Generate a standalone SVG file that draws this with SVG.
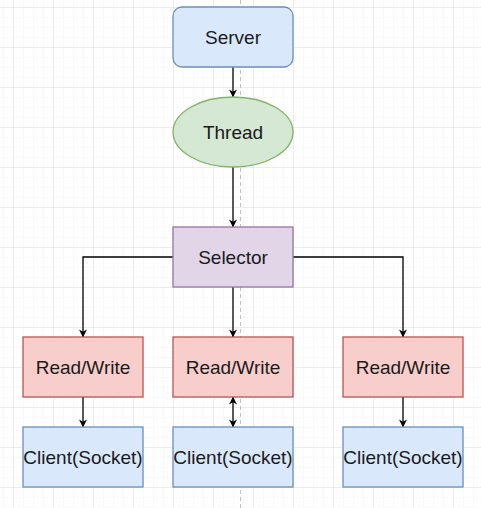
<svg xmlns="http://www.w3.org/2000/svg" width="481" height="508" viewBox="0 0 481 508">
<defs>
<style>
.lbl{font-family:"Liberation Sans",Arial,Helvetica,sans-serif;font-size:19px;fill:#1a1a1a;text-anchor:middle}
.edge{fill:none;stroke:#000;stroke-width:1.3}
.blue{fill:#dae8fc;stroke:#6c8ebf;stroke-width:1.3}
.green{fill:#d5e8d4;stroke:#82b366;stroke-width:1.3}
.purple{fill:#e1d5e7;stroke:#9673a6;stroke-width:1.3}
.red{fill:#f8cecc;stroke:#b85450;stroke-width:1.3}
</style>
<pattern id="minor" x="3" y="7" width="10" height="10" patternUnits="userSpaceOnUse">
<path d="M0 0H10M0 0V10" fill="none" stroke="#f3f3f3" stroke-width="1"/>
</pattern>
<pattern id="major" x="13" y="7" width="40" height="40" patternUnits="userSpaceOnUse">
<path d="M0 0H40M0 0V40" fill="none" stroke="#e0e0e0" stroke-width="1"/>
</pattern>
<marker id="arr" viewBox="0 0 10 10" refX="9.5" refY="5" markerWidth="8" markerHeight="8" markerUnits="userSpaceOnUse" orient="auto-start-reverse">
<path d="M0 0L10 5L0 10L3 5Z" fill="#000"/>
</marker>
</defs>
<rect width="481" height="508" fill="#fff"/>
<rect width="481" height="508" fill="url(#minor)"/>
<rect width="481" height="508" fill="url(#major)"/>
<line x1="240.5" y1="0" x2="240.5" y2="508" stroke="#c0c0c0" stroke-width="1" stroke-dasharray="4 3"/>
<g id="connectors">
<path class="edge" d="M233 67V97" marker-end="url(#arr)"/>
<path class="edge" d="M233 167V227" marker-end="url(#arr)"/>
<path class="edge" d="M173 257H83V337" marker-end="url(#arr)"/>
<path class="edge" d="M233 287V337" marker-end="url(#arr)"/>
<path class="edge" d="M293 257H403V337" marker-end="url(#arr)"/>
<path class="edge" d="M83 397V427" marker-end="url(#arr)"/>
<path class="edge" d="M233 397V427" marker-start="url(#arr)" marker-end="url(#arr)"/>
<path class="edge" d="M403 397V427" marker-end="url(#arr)"/>
</g>
<g id="server"><rect class="blue" x="173" y="7" width="120" height="60" rx="9"/><text class="lbl" x="233" y="44">Server</text></g>
<g id="thread"><ellipse class="green" cx="233" cy="132" rx="60" ry="35"/><text class="lbl" x="233" y="139">Thread</text></g>
<g id="selector"><rect class="purple" x="173" y="227" width="120" height="60"/><text class="lbl" x="233" y="264">Selector</text></g>
<g id="rw1"><rect class="red" x="23" y="337" width="120" height="60"/><text class="lbl" x="83" y="374">Read/Write</text></g>
<g id="rw2"><rect class="red" x="173" y="337" width="120" height="60"/><text class="lbl" x="233" y="374">Read/Write</text></g>
<g id="rw3"><rect class="red" x="343" y="337" width="120" height="60"/><text class="lbl" x="403" y="374">Read/Write</text></g>
<g id="client1"><rect class="blue" x="23" y="427" width="120" height="60"/><text class="lbl" x="83" y="464">Client(Socket)</text></g>
<g id="client2"><rect class="blue" x="173" y="427" width="120" height="60"/><text class="lbl" x="233" y="464">Client(Socket)</text></g>
<g id="client3"><rect class="blue" x="343" y="427" width="120" height="60"/><text class="lbl" x="403" y="464">Client(Socket)</text></g>
</svg>
